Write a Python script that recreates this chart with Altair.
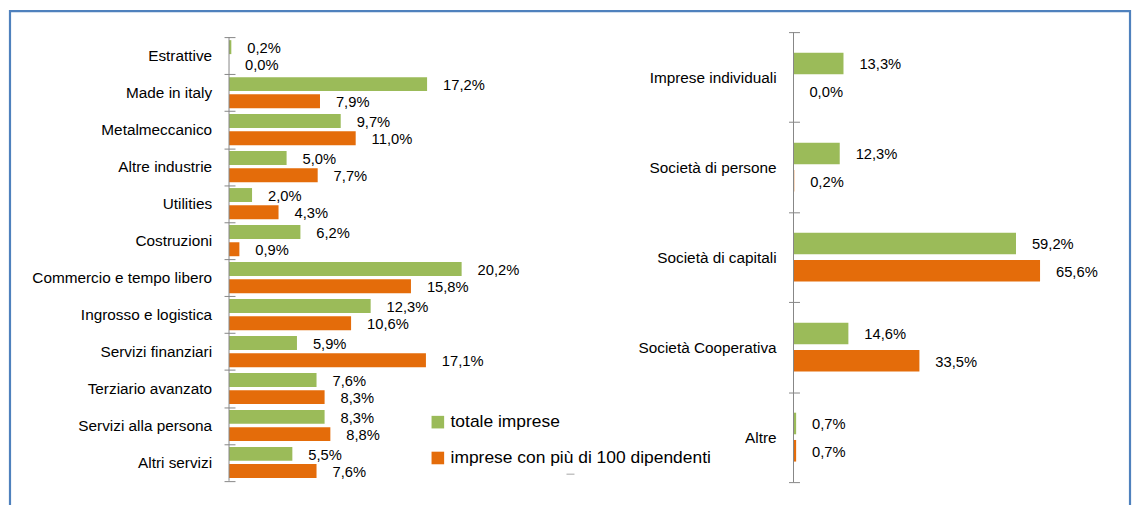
import altair as alt
import pandas as pd

FONT = "Liberation Sans"
GRAY = "#868686"

series = ["totale imprese", "imprese con più di 100 dipendenti"]
series_colors = ["#9BBB59", "#E46C0A"]

left_categories = [
    "Estrattive", "Made in italy", "Metalmeccanico", "Altre industrie",
    "Utilities", "Costruzioni", "Commercio e tempo libero",
    "Ingrosso e logistica", "Servizi finanziari", "Terziario avanzato",
    "Servizi alla persona", "Altri servizi",
]
left_totale = [0.2, 17.2, 9.7, 5.0, 2.0, 6.2, 20.2, 12.3, 5.9, 7.6, 8.3, 5.5]
left_oltre100 = [0.0, 7.9, 11.0, 7.7, 4.3, 0.9, 15.8, 10.6, 17.1, 8.3, 8.8, 7.6]

right_categories = [
    "Imprese individuali", "Società di persone", "Società di capitali",
    "Società Cooperativa", "Altre",
]
right_totale = [13.3, 12.3, 59.2, 14.6, 0.7]
right_oltre100 = [0.0, 0.2, 65.6, 33.5, 0.7]


def build(cats, tot, big):
    rows = []
    for c, a, b in zip(cats, tot, big):
        for s, v in zip(series, (a, b)):
            rows.append({
                "categoria": c,
                "serie": s,
                "valore": v,
                "etichetta": f"{v:.1f}".replace(".", ",") + "%",
            })
    return pd.DataFrame(rows)


left_df = build(left_categories, left_totale, left_oltre100)
right_df = build(right_categories, right_totale, right_oltre100)

color_enc = alt.Color(
    "serie:N",
    sort=series,
    scale=alt.Scale(domain=series, range=series_colors),
    legend=alt.Legend(
        title=None, orient="none", legendX=201, legendY=383,
        symbolType="square", symbolSize=160, symbolStrokeWidth=0,
        labelFont=FONT, labelFontSize=17.5, labelColor="#000",
        labelOffset=4, rowPadding=17, labelLimit=400, padding=0,
    ),
)


def panel(df, cats, xmax, width, height, outer, off_in, off_out, axis_span):
    base = alt.Chart(df).encode(
        y=alt.Y(
            "categoria:N", sort=cats,
            scale=alt.Scale(paddingInner=0, paddingOuter=outer),
            axis=alt.Axis(
                title=None, domain=False, offset=-6, tickSize=11,
                tickBand="extent", tickColor=GRAY, tickWidth=1,
                labelPadding=12.5, labelFont=FONT, labelFontSize=15.4,
                labelColor="#000", labelLimit=400,
            ),
        ),
        yOffset=alt.YOffset(
            "serie:N", sort=series,
            scale=alt.Scale(paddingInner=off_in, paddingOuter=off_out),
        ),
    )
    xscale = alt.Scale(domain=[0, xmax], nice=False, zero=True)
    bars = base.mark_bar().encode(
        x=alt.X("valore:Q", scale=xscale, axis=None),
        color=color_enc,
    )
    labels = base.mark_text(
        align="left", baseline="middle", dx=16, dy=2,
        font=FONT, fontSize=14.8, color="#000",
    ).encode(x=alt.X("valore:Q", scale=xscale, axis=None), text="etichetta:N")
    axis_line = alt.Chart(pd.DataFrame({"k": [0]})).mark_rule(
        color=GRAY, strokeWidth=1
    ).encode(x=alt.value(0), y=alt.value(axis_span[0]), y2=alt.value(axis_span[1]))
    return [bars, labels, axis_line], width, height


one = pd.DataFrame({"k": [0]})
frame = alt.Chart(one).mark_rect(
    fill=None, stroke="#4F81BD", strokeWidth=2.2
).encode(x=alt.value(-220), x2=alt.value(905), y=alt.value(-21), y2=alt.value(530))
stray = alt.Chart(one).mark_rule(color="#A6A6A6", strokeWidth=1).encode(
    x=alt.value(339), x2=alt.value(347), y=alt.value(444)
)

l_layers, lw, lh = panel(left_df, left_categories, 30, 347, 456, 0.139, 0.19, 0.168, (5, 450.7))
r_layers, rw, rh = panel(right_df, right_categories, 80, 302, 452, 0.0, 0.208, 0.754, (0, 452))

left = alt.layer(frame, *l_layers, stray).properties(width=lw, height=lh)
right = alt.layer(*r_layers).properties(width=rw, height=rh)

chart = (
    alt.hconcat(left, right, spacing=220, bounds="flush")
    .resolve_scale(y="independent", yOffset="independent", x="independent", color="shared")
    .properties(padding={"left": 0, "top": 0, "right": 0, "bottom": 0}, background="white")
    .configure_view(stroke=None)
)

chart.save("out.html", embed_options={"renderer": "svg", "actions": False})
